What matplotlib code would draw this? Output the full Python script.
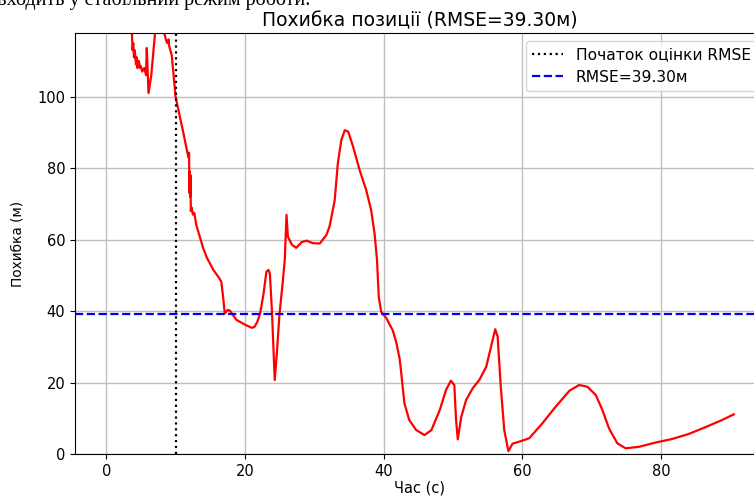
import matplotlib
matplotlib.use("Agg")
import matplotlib.pyplot as plt

# Data
time_s = [0, 3.0, 3.7, 3.8, 3.9, 4.0, 4.1, 4.3, 4.4, 4.5, 4.7, 4.9, 5.0, 5.2, 5.5,
          5.75, 5.85, 6.1, 6.5, 7.05, 7.5, 8.0, 8.35, 8.6, 8.8, 9.0, 9.1, 9.45,
          10.0, 11.0, 11.85, 11.95, 12.0, 12.05, 12.1, 12.15, 12.2, 12.3, 12.5,
          12.7, 13.0, 13.5, 14.0, 14.5, 15.45, 16.2, 16.6, 16.85, 17.1, 17.5,
          17.85, 18.3, 18.8, 20.0, 21.0, 21.4, 21.8, 22.2, 22.7, 23.1, 23.4,
          23.6, 23.9, 24.3, 24.6, 25.0, 25.4, 25.75, 26.0, 26.2, 26.8, 27.4,
          28.2, 28.9, 29.8, 30.8, 31.75, 32.2, 32.95, 33.4, 33.9, 34.4, 34.9,
          35.6, 36.55, 37.5, 38.2, 38.7, 39.05, 39.3, 39.65, 40.4, 40.9, 41.3,
          41.8, 42.3, 42.5, 43.0, 43.7, 44.7, 45.9, 46.9, 48.1, 49.0, 49.7,
          50.2, 50.45, 50.7, 51.2, 51.9, 52.85, 53.8, 54.8, 55.5, 56.1, 56.45,
          56.9, 57.4, 58.0, 58.6, 59.3, 59.8, 61.0, 62.9, 64.8, 66.8, 68.2,
          69.4, 70.6, 71.55, 72.5, 73.7, 74.9, 76.8, 79.2, 81.6, 84.0, 86.4,
          88.8, 90.5]
error_m = [160, 140, 118, 113, 115, 111, 113, 109, 111, 108, 110, 108, 108.5, 107, 108,
           106, 113.6, 101, 106, 118, 125, 125, 118, 116, 115, 116, 114, 111.6,
           100, 91, 83, 84.3, 73, 79, 72, 78, 68, 69, 67,
           67.5, 64, 60.8, 57.5, 55, 51.5, 49.5, 48.2, 44, 39.3, 40.3,
           40.1, 38.8, 37.5, 36.2, 35.3, 35.6, 37.0, 39.4, 45.0, 51.0, 51.5,
           50.5, 40.0, 20.7, 28.0, 39.4, 47.0, 54.3, 66.9, 60.8, 58.5, 57.7,
           59.3, 59.7, 59.0, 58.9, 61.3, 63.6, 71.0, 81.3, 87.8, 90.6, 90.2,
           86.0, 79.4, 73.8, 68.3, 61.7, 54.3, 44.0, 39.8, 38.0, 36.1, 34.7,
           31.5, 26.8, 23.5, 14.2, 9.5, 6.7, 5.3, 6.7, 12.3, 17.9, 20.5,
           19.3, 9.5, 4.1, 10.4, 15.1, 18.4, 20.7, 24.4, 30.0, 34.9, 32.8,
           18.8, 6.7, 0.8, 2.9, 3.3, 3.6, 4.4, 8.6, 13.2, 17.7, 19.3,
           18.8, 16.5, 12.3, 7.2, 3.0, 1.6, 2.0, 3.2, 4.2, 5.6, 7.5,
           9.5, 11.1]

eval_start = 10.0
rmse = 39.30
x_ticks = [0, 20, 40, 60, 80]
y_ticks = [0, 20, 40, 60, 80, 100]

fig = plt.figure(figsize=(7.54, 4.97), dpi=100)
ax = fig.add_axes([75 / 754, 43 / 497, 690 / 754, 421 / 497])

ax.plot(time_s, error_m, color="red", linewidth=1.6)
ax.axvline(eval_start, color="black", linestyle=":", linewidth=1.6,
           label="Початок оцінки RMSE")
ax.axhline(rmse, color="blue", linestyle="--", linewidth=1.6,
           label=f"RMSE={rmse:.2f}м")

ax.set_xlim(-4.5, 95.0)
ax.set_ylim(0, 117.8)
ax.set_xticks(x_ticks)
ax.set_yticks(y_ticks)
ax.tick_params(labelsize=10.5)
ax.grid(True, color="#bfbfbf", linewidth=1.0)
ax.set_axisbelow(True)

ax.set_title(f"Похибка позиції (RMSE={rmse:.2f}м)", fontsize=13.5, pad=5)
ax.set_xlabel("Час (с)", fontsize=10.5, labelpad=1)
ax.set_ylabel("Похибка (м)", fontsize=9.8, labelpad=9)
ax.legend(loc="upper right", fontsize=11.2)

fig.text(-0.004, 491.5 / 497, "входить у стабільний режим роботи.",
         family=["Liberation Serif"], fontsize=14.5, va="baseline", ha="left")

fig.savefig("out.png", dpi=100)
